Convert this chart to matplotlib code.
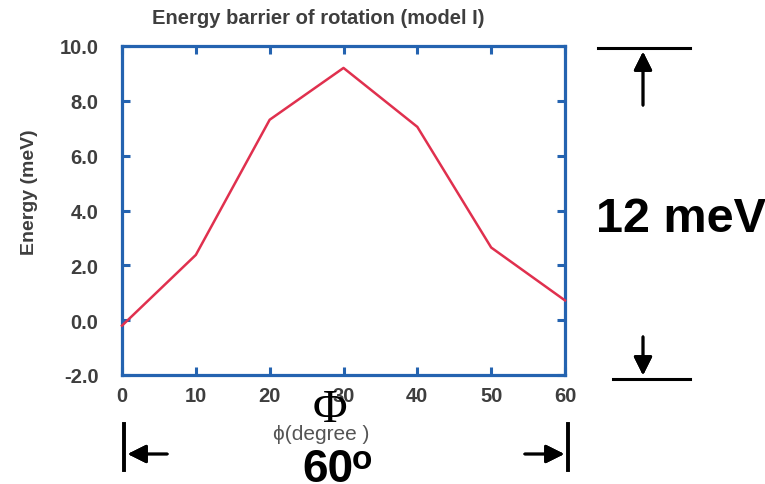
"""Energy barrier of rotation (model I) chart with annotation arrows."""

import matplotlib
matplotlib.use("Agg")
import matplotlib.pyplot as plt
from matplotlib.lines import Line2D

phi_deg = [0, 10, 20, 30, 40, 50, 60]
energy_mev = [-0.2, 2.38, 7.31, 9.2, 7.05, 2.65, 0.72]
x_ticks = [0, 10, 20, 30, 40, 50, 60]
y_ticks = [-2.0, 0.0, 2.0, 4.0, 6.0, 8.0, 10.0]

W, H = 765, 485
text_gray = "#3e3e3e"
spine_blue = "#2463b0"
line_red = "#e0304e"

plt.rcParams["font.family"] = ["Liberation Sans", "DejaVu Sans"]

fig = plt.figure(figsize=(W / 100, H / 100), dpi=100, facecolor="white")


def px(x, y):
    # pixel coords (top-left origin) -> figure fraction
    return (x / W, 1 - y / H)


ax = fig.add_axes([122 / W, 1 - 376 / H, (565 - 122) / W, (376 - 47) / H])
ax.plot(phi_deg, energy_mev, color=line_red, linewidth=1.8, clip_on=False, zorder=3)
ax.set_xlim(0, 60)
ax.set_ylim(-2, 10)
ax.set_xticks(x_ticks)
ax.set_xticklabels([str(t) for t in x_ticks])
ax.set_yticks(y_ticks)
ax.set_yticklabels([f"{t:.1f}" for t in y_ticks])
ax.tick_params(axis="both", direction="in", length=6, width=2.2, color=spine_blue,
               top=True, right=True, labelsize=14.5, labelcolor=text_gray)
ax.tick_params(axis="y", pad=17)
ax.tick_params(axis="x", pad=8)
for lbl in ax.get_xticklabels() + ax.get_yticklabels():
    lbl.set_fontweight("bold")
for spine in ax.spines.values():
    spine.set_color(spine_blue)
    spine.set_linewidth(2.3)

fig.text(*px(318, 19), "Energy barrier of rotation (model I)", ha="center", va="center",
         fontsize=14.5, fontweight="bold", color=text_gray)
fig.text(*px(30, 192), "Energy (meV)", rotation=90, ha="center", va="center",
         fontsize=14, fontweight="bold", color=text_gray)

# x-axis labels
fig.text(*px(330, 411), "\u03a6", ha="center", va="center", fontsize=34,
         family=["Liberation Serif", "DejaVu Serif"], color="black")
fig.text(*px(321, 434), "\u03d5(degree )", ha="center", va="center", fontsize=15,
         color="#555555")
fig.text(*px(353, 482), "60", ha="right", va="baseline", fontsize=33,
         fontweight="bold", color="black")
fig.text(*px(352, 469), "o", ha="left", va="baseline", fontsize=24,
         fontweight="bold", color="black")

# 60 degree span markers
for xb in (124, 568):
    fig.add_artist(Line2D([px(xb, 0)[0]] * 2, [px(0, 425)[1], px(0, 471)[1]],
                          transform=fig.transFigure, color="black", linewidth=2.8))
arrow = dict(arrowstyle="-|>", color="black", lw=2, mutation_scale=28)
fig.add_artist(plt.annotate("", xy=px(125, 455), xytext=px(170, 455),
                            xycoords="figure fraction", arrowprops=arrow))
fig.add_artist(plt.annotate("", xy=px(567, 455), xytext=px(522, 455),
                            xycoords="figure fraction", arrowprops=arrow))

# 12 meV span markers
fig.add_artist(Line2D([px(598, 0)[0], px(690, 0)[0]], [px(0, 49)[1]] * 2,
                      transform=fig.transFigure, color="black", linewidth=2.2))
fig.add_artist(Line2D([px(613, 0)[0], px(690, 0)[0]], [px(0, 380)[1]] * 2,
                      transform=fig.transFigure, color="black", linewidth=2.2))
fig.add_artist(plt.annotate("", xy=px(643, 50), xytext=px(643, 109),
                            xycoords="figure fraction", arrowprops=arrow))
fig.add_artist(plt.annotate("", xy=px(643, 379), xytext=px(643, 335),
                            xycoords="figure fraction", arrowprops=arrow))
fig.text(*px(681, 220), "12 meV", ha="center", va="center", fontsize=35,
         fontweight="bold", color="black")

fig.savefig("out.png", dpi=100, facecolor="white")
plt.close(fig)
